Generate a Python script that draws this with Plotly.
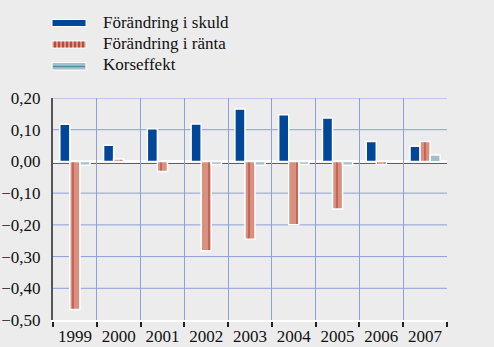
import plotly.graph_objects as go

# Årsvisa bidrag till förändrad räntekostnad
years = ["1999", "2000", "2001", "2002", "2003", "2004", "2005", "2006", "2007"]
skuld = [0.117, 0.051, 0.103, 0.118, 0.165, 0.147, 0.137, 0.063, 0.048]
ranta = [-0.467, 0.008, -0.032, -0.282, -0.245, -0.200, -0.150, -0.010, 0.063]
kors = [-0.012, 0.0, 0.0, -0.010, -0.012, -0.010, -0.012, 0.0, 0.020]

series_names = ["Förändring i skuld", "Förändring i ränta", "Korseffekt"]
y_ticks = [0.2, 0.1, 0.0, -0.1, -0.2, -0.3, -0.4, -0.5]

BG = "#ececec"
GRID = "#8e9fda"
BLUE = "#00479a"
SALMON = "#d8907f"
DARKRED = "#a3281e"
LIGHTBLUE = "#a3bfcc"
TEAL = "#4a8fa2"
FONT = "Times New Roman"

W, H = 494, 347
L, R, T, B = 53, 47, 98, 27
PW, PH = W - L - R, H - T - B


def px(x):
    return (x - L) / PW


def py(y):
    return (H - B - y) / PH


fig = go.Figure()
fig.add_bar(x=years, y=skuld, name=series_names[0],
            marker=dict(color=BLUE, line=dict(color="white", width=1.5)),
            showlegend=False)
fig.add_bar(x=years, y=ranta, name=series_names[1],
            marker=dict(color=SALMON, line=dict(color="white", width=1.5),
                        pattern=dict(shape="|", fgcolor=DARKRED, bgcolor=SALMON,
                                     size=8, solidity=0.2)),
            showlegend=False)
fig.add_bar(x=years, y=kors, name=series_names[2],
            marker=dict(color=LIGHTBLUE, line=dict(color="white", width=1.5),
                        pattern=dict(shape="-", fgcolor=TEAL, bgcolor=LIGHTBLUE,
                                     size=6, solidity=0.25)),
            showlegend=False)

shapes = []
# horizontal grid at every tick value (drawn beneath the bars)
for v in y_ticks[:-1]:
    if v != 0:
        shapes.append(dict(type="line", xref="paper", x0=0, x1=1, yref="y",
                           y0=v, y1=v, line=dict(color=GRID, width=1),
                           layer="between"))
# white zero line with a dark rule just beneath it
shapes.append(dict(type="line", xref="paper", x0=0, x1=1, yref="y",
                   y0=0, y1=0, line=dict(color="white", width=3),
                   layer="between"))
shapes.append(dict(type="line", xref="paper", x0=0, x1=1, yref="y",
                   ysizemode="pixel", yanchor=0, y0=-2, y1=-2,
                   line=dict(color="#555555", width=1), layer="between"))

# hand-built legend keys
key_x0, key_x1 = 52, 86
shapes.append(dict(type="rect", xref="paper", yref="paper",
                   x0=px(key_x0), x1=px(key_x1), y0=py(26.5), y1=py(19.5),
                   fillcolor=BLUE, line=dict(color="white", width=1)))
shapes.append(dict(type="rect", xref="paper", yref="paper",
                   x0=px(key_x0), x1=px(key_x1), y0=py(48), y1=py(41),
                   fillcolor=SALMON, line=dict(color="white", width=1)))
for sx in range(55, 85, 4):
    shapes.append(dict(type="line", xref="paper", yref="paper",
                       x0=px(sx), x1=px(sx), y0=py(47.5), y1=py(41.5),
                       line=dict(color=DARKRED, width=1.3)))
shapes.append(dict(type="rect", xref="paper", yref="paper",
                   x0=px(key_x0), x1=px(key_x1), y0=py(70), y1=py(62.5),
                   fillcolor=LIGHTBLUE, line=dict(color="white", width=1)))
shapes.append(dict(type="line", xref="paper", yref="paper",
                   x0=px(key_x0 + 1), x1=px(key_x1 - 1), y0=py(66.5), y1=py(66.5),
                   line=dict(color=TEAL, width=1.3)))

annotations = []
for name, yc in zip(series_names, [22.5, 43.5, 64]):
    annotations.append(dict(text=name, xref="paper", yref="paper",
                            x=px(101), y=py(yc), xanchor="left", yanchor="middle",
                            showarrow=False,
                            font=dict(family=FONT, size=17, color="#111111")))

tickfont = dict(family=FONT, size=17, color="#111111")

fig.update_layout(
    width=W, height=H,
    margin=dict(l=L, r=R, t=T, b=B, pad=0),
    paper_bgcolor=BG, plot_bgcolor=BG,
    separators=", ",
    barmode="group", bargap=0.31, bargroupgap=0,
    font=dict(family=FONT, size=17, color="#111111"),
    shapes=shapes, annotations=annotations,
    xaxis=dict(type="category", tickson="boundaries", showgrid=True,
               gridcolor=GRID, gridwidth=1, automargin=False, tickangle=0,
               showline=True, linecolor="white", linewidth=2,
               ticks="outside", ticklen=5, tickwidth=1.5, tickcolor="#222222",
               tickfont=tickfont),
    yaxis=dict(range=[-0.5, 0.2], tickvals=y_ticks, tickformat=".2f",
               showgrid=False, zeroline=False, automargin=False,
               showline=True, linecolor="#555555", linewidth=2,
               ticks="", ticklabelstandoff=7, tickfont=tickfont),
    yaxis2=dict(range=[-0.5, 0.2], tickvals=y_ticks, tickformat=".2f",
                overlaying="y", side="right", automargin=False,
                showgrid=False, zeroline=False,
                showline=True, linecolor="#111111", linewidth=1.5,
                ticks="", ticklabelstandoff=11, tickfont=tickfont),
)

fig.write_html("out.html")
